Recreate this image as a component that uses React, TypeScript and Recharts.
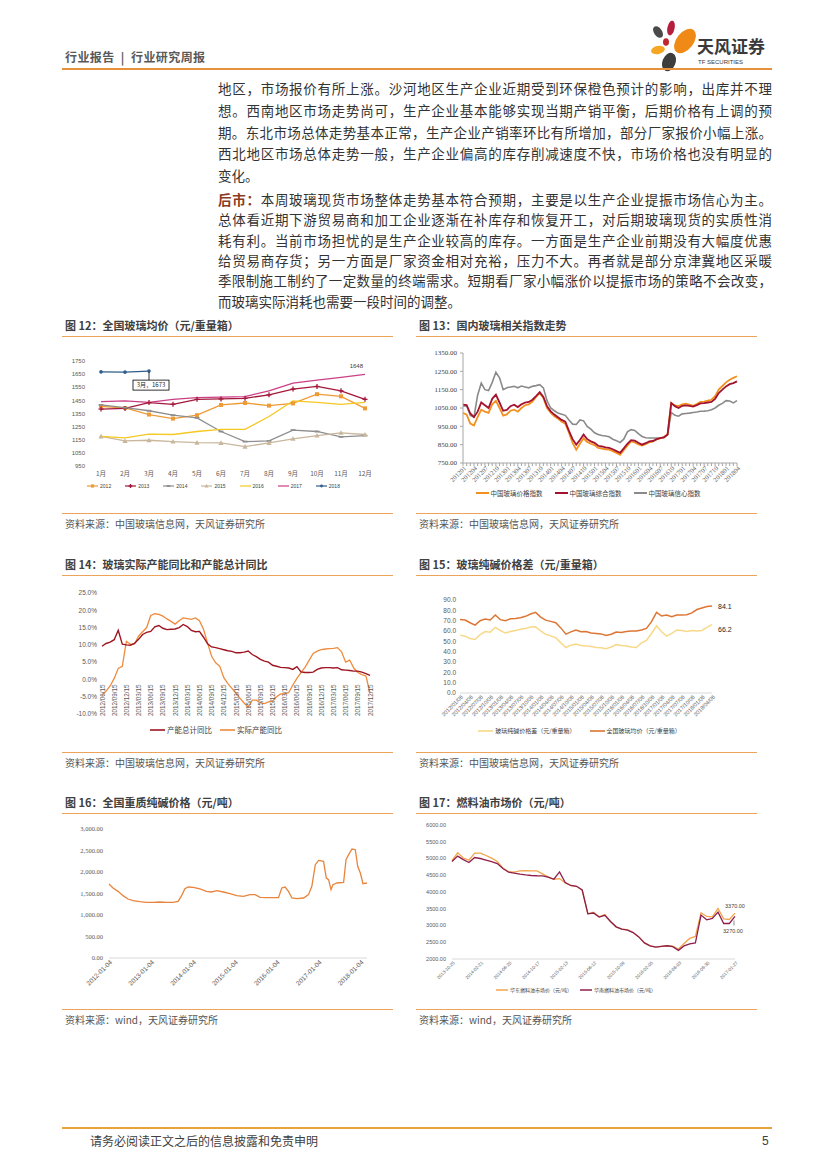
import React from 'react';
import { LineChart, Line, XAxis, YAxis, Legend, LabelList } from 'recharts';

const SANS = '"Liberation Sans", "DejaVu Sans", sans-serif';
const SERIF = '"Liberation Serif", "DejaVu Serif", serif';
const CJK = '"Noto Sans CJK SC", "Noto Sans", sans-serif';
const RULE = '#EDA35A';
const AXIS_TEXT = '#595959';

// ---------- body text ----------
const PARA1 = [
  '地区，市场报价有所上涨。沙河地区生产企业近期受到环保橙色预计的影响，出库并不理',
  '想。西南地区市场走势尚可，生产企业基本能够实现当期产销平衡，后期价格有上调的预',
  '期。东北市场总体走势基本正常，生产企业产销率环比有所增加，部分厂家报价小幅上涨。',
  '西北地区市场总体走势一般，生产企业偏高的库存削减速度不快，市场价格也没有明显的',
  '变化。',
];
const PARA2_LEAD = '后市：';
const PARA2 = [
  '本周玻璃现货市场整体走势基本符合预期，主要是以生产企业提振市场信心为主。',
  '总体看近期下游贸易商和加工企业逐渐在补库存和恢复开工，对后期玻璃现货的实质性消',
  '耗有利。当前市场担忧的是生产企业较高的库存。一方面是生产企业前期没有大幅度优惠',
  '给贸易商存货；另一方面是厂家资金相对充裕，压力不大。再者就是部分京津冀地区采暖',
  '季限制施工制约了一定数量的终端需求。短期看厂家小幅涨价以提振市场的策略不会改变，',
  '而玻璃实际消耗也需要一段时间的调整。',
];

// ---------- 图12 全国玻璃均价 ----------
const MONTHS = ['1月', '2月', '3月', '4月', '5月', '6月', '7月', '8月', '9月', '10月', '11月', '12月'];
const PRICE_2012 = [1405, 1392, 1342, 1311, 1337, 1415, 1430, 1410, 1427, 1497, 1481, 1389];
const PRICE_2013 = [1384, 1389, 1433, 1420, 1458, 1461, 1466, 1492, 1536, 1556, 1523, 1458];
const PRICE_2014 = [1415, 1394, 1371, 1337, 1317, 1213, 1136, 1141, 1224, 1213, 1172, 1182];
const PRICE_2015 = [1175, 1141, 1146, 1136, 1128, 1126, 1097, 1126, 1157, 1182, 1203, 1190];
const PRICE_2016 = [1175, 1164, 1193, 1190, 1213, 1229, 1229, 1327, 1446, 1435, 1420, 1435];
const PRICE_2017 = [1440, 1446, 1435, 1458, 1471, 1474, 1479, 1523, 1582, 1605, 1626, 1648];
const PRICE_2018 = [1667, 1665, 1673];
const YEARS = ['2012', '2013', '2014', '2015', '2016', '2017', '2018'];
const YEAR_PRICES = [PRICE_2012, PRICE_2013, PRICE_2014, PRICE_2015, PRICE_2016, PRICE_2017, PRICE_2018];
const YEAR_COLORS = ['#EE9A36', '#A3173A', '#8E8E8E', '#C9B79C', '#F5C823', '#CB3F86', '#2F5E8C'];
const YEAR_MARKERS = ['square', 'plus', 'dash', 'triangle', 'none', 'none', 'circle'];
const FIG12_TICKS = [950, 1050, 1150, 1250, 1350, 1450, 1550, 1650, 1750];

// ---------- 图13 国内玻璃相关指数 ----------
const FIG13_MONTHS = [
  '201201', '201202', '201203', '201204', '201205', '201206', '201207', '201208', '201209', '201210', '201211', '201212',
  '201301', '201302', '201303', '201304', '201305', '201306', '201307', '201308', '201309', '201310', '201311', '201312',
  '201401', '201402', '201403', '201404', '201405', '201406', '201407', '201408', '201409', '201410', '201411', '201412',
  '201501', '201502', '201503', '201504', '201505', '201506', '201507', '201508', '201509', '201510', '201511', '201512',
  '201601', '201602', '201603', '201604', '201605', '201606', '201607', '201608', '201609', '201610', '201611', '201612',
  '201701', '201702', '201703', '201704', '201705', '201706', '201707', '201708', '201709', '201710', '201711', '201712',
  '201801', '201802', '201803', '201804',
];
const GLASS_PRICE_IDX = [
  1023, 1014, 965, 955, 1000, 1041, 1030, 1023, 1070, 1090, 1050, 1008,
  1015, 1035, 1041, 1030, 1050, 1065, 1070, 1085, 1110, 1132, 1105, 1050,
  1025, 1005, 992, 975, 965, 915, 860, 823, 855, 885, 865, 855,
  848, 832, 828, 825, 823, 815, 805, 795, 820, 845, 868, 862,
  852, 845, 852, 863, 868, 878, 886, 890, 905, 1077, 1064, 1060,
  1070, 1074, 1068, 1062, 1072, 1083, 1085, 1090, 1095, 1115, 1150, 1170,
  1190, 1204, 1214, 1223,
];
const GLASS_COMPOSITE_IDX = [
  1068, 1066, 1020, 1000, 1030, 1080, 1065, 1050, 1100, 1123, 1080, 1035,
  1040, 1060, 1068, 1055, 1070, 1080, 1083, 1095, 1115, 1136, 1110, 1060,
  1032, 1014, 1000, 985, 975, 925, 880, 850, 875, 905, 880, 868,
  860, 844, 840, 835, 832, 825, 815, 805, 830, 855, 875, 872,
  860, 850, 858, 868, 870, 880, 886, 890, 905, 1077, 1060, 1050,
  1062, 1064, 1062, 1058, 1066, 1075, 1077, 1080, 1083, 1100, 1132, 1150,
  1168, 1180, 1186, 1195,
];
const GLASS_CONFIDENCE_IDX = [
  1060, 1062, 1010, 1000, 1120, 1186, 1150, 1145, 1190, 1245, 1215, 1150,
  1160, 1165, 1168, 1160, 1170, 1165, 1160, 1168, 1172, 1177, 1160, 1090,
  1050, 1035, 1022, 1016, 1010, 985, 962, 960, 985, 980, 950, 935,
  915, 905, 900, 897, 893, 880, 872, 862, 880, 920, 932, 928,
  910, 895, 888, 886, 886, 886, 886, 890, 905, 1026, 1010, 1005,
  1018, 1020, 1022, 1025, 1028, 1032, 1033, 1035, 1040, 1050, 1065, 1075,
  1090, 1088, 1078, 1090,
];
const FIG13_TICKS = [750, 850, 950, 1050, 1150, 1250, 1350];

// ---------- 图14 产能同比 ----------
const FIG14_DATES = [
  '2012/06/15', '2012/07/15', '2012/08/15', '2012/09/15', '2012/10/15', '2012/11/15', '2012/12/15',
  '2013/01/15', '2013/02/15', '2013/03/15', '2013/04/15', '2013/05/15', '2013/06/15', '2013/07/15', '2013/08/15', '2013/09/15', '2013/10/15', '2013/11/15', '2013/12/15',
  '2014/01/15', '2014/02/15', '2014/03/15', '2014/04/15', '2014/05/15', '2014/06/15', '2014/07/15', '2014/08/15', '2014/09/15', '2014/10/15', '2014/11/15', '2014/12/15',
  '2015/01/15', '2015/02/15', '2015/03/15', '2015/04/15', '2015/05/15', '2015/06/15', '2015/07/15', '2015/08/15', '2015/09/15', '2015/10/15', '2015/11/15', '2015/12/15',
  '2016/01/15', '2016/02/15', '2016/03/15', '2016/04/15', '2016/05/15', '2016/06/15', '2016/07/15', '2016/08/15', '2016/09/15', '2016/10/15', '2016/11/15', '2016/12/15',
  '2017/01/15', '2017/02/15', '2017/03/15', '2017/04/15', '2017/05/15', '2017/06/15', '2017/07/15', '2017/08/15', '2017/09/15', '2017/10/15', '2017/11/15', '2017/12/15',
];
const TOTAL_CAPACITY_YOY = [
  9.6, 10.4, 10.8, 11.5, 14.2, 10.2, 10.0, 9.9, 10.4, 11.6, 13.0, 13.6, 13.9, 15.2, 15.6, 14.8, 14.4, 14.5, 14.6, 15.0,
  15.9, 15.3, 14.2, 13.8, 13.9, 12.2, 10.3, 9.4, 9.2, 8.9, 8.6, 8.3, 8.1, 7.7, 7.7, 7.9, 8.2, 7.2, 6.6, 5.8,
  5.3, 5.0, 4.1, 3.8, 3.5, 3.4, 3.3, 2.9, 3.7, 2.2, 2.0, 2.0, 2.1, 2.9, 3.3, 3.4, 3.4, 3.3, 3.4, 2.8,
  2.7, 2.6, 2.4, 2.4, 2.1, 1.7, 1.2,
];
const ACTUAL_CAPACITY_YOY = [
  -4.6, -3.4, -1.9, 0.3, 3.2, 3.8, 11.0, 10.2, 10.3, 12.5, 13.8, 15.0, 18.5, 19.0, 18.8, 18.3, 17.5, 16.8, 16.0, 17.0,
  17.8, 17.6, 17.4, 17.8, 17.0, 14.5, 10.5, 6.7, 4.8, 3.8, 0.5, -1.2, -2.6, -4.0, -5.5, -6.8, -8.0, -6.0, -6.0, -6.8,
  -7.0, -6.5, -6.3, -5.0, -4.2, -4.2, -3.8, -1.6, 0.3, 2.0, 3.5, 5.5, 7.5, 8.2, 8.6, 8.8, 8.9, 9.0, 9.2, 8.0,
  5.0, 5.6, 3.3, 2.0, 1.4, 1.0, -4.0,
];
const FIG14_TICKS = [-10, -5, 0, 5, 10, 15, 20, 25];

// ---------- 图15 玻璃纯碱价格差 ----------
const FIG15_TICKS = [
  '2012/01/06', '2012/04/06', '2012/07/06', '2012/10/06', '2013/01/06', '2013/04/06', '2013/07/06', '2013/10/06',
  '2014/01/06', '2014/04/06', '2014/07/06', '2014/10/06', '2015/01/06', '2015/04/06', '2015/07/06', '2015/10/06',
  '2016/01/06', '2016/04/06', '2016/07/06', '2016/10/06', '2017/01/06', '2017/04/06', '2017/07/06', '2017/10/06',
  '2018/01/06', '2018/04/06',
];
const GLASS_AVG_BOX = [
  71.2, 70.6, 68.0, 65.7, 70.0, 71.5, 70.6, 75.5, 71.0, 70.0, 71.8, 72.2, 72.8, 74.2, 76.5, 78.0, 73.5,
  70.5, 69.3, 68.0, 63.0, 57.0, 59.2, 61.0, 59.2, 59.5, 58.0, 57.6, 57.2, 55.6, 56.8, 59.0, 58.6, 59.5,
  60.0, 59.9, 61.0, 62.5, 69.0, 78.0, 74.5, 75.4, 73.8, 75.4, 75.4, 75.8, 77.5, 80.8, 82.2, 83.6, 84.1,
];
const GLASS_SODA_SPREAD = [
  56.0, 55.0, 52.8, 51.8, 56.5, 59.5, 58.9, 63.5, 60.5, 58.0, 59.5, 60.5, 61.6, 62.5, 63.8, 64.0, 60.0,
  56.8, 55.3, 53.5, 48.5, 44.0, 46.3, 47.5, 46.0, 45.6, 45.0, 44.0, 43.8, 42.8, 44.5, 46.8, 46.0, 45.5,
  44.5, 44.0, 48.5, 51.0, 57.6, 65.0, 59.2, 55.0, 57.6, 60.9, 60.4, 59.6, 60.5, 60.0, 60.5, 63.5, 66.2,
];
const FIG15_Y = [0, 10, 20, 30, 40, 50, 60, 70, 80, 90];

// ---------- 图16 全国重质纯碱价格 ----------
const FIG16_DATES = [
  '2012-01-04', '2012-02-08', '2012-03-23', '2012-05-05', '2012-06-18', '2012-08-01', '2012-09-28', '2012-11-25',
  '2013-01-23', '2013-03-22', '2013-05-19', '2013-07-17', '2013-08-29', '2013-09-28', '2013-10-27', '2013-11-25',
  '2014-01-08', '2014-03-07', '2014-05-04', '2014-06-17', '2014-07-31', '2014-09-27', '2014-11-24', '2015-01-22',
  '2015-03-21', '2015-05-18', '2015-07-01', '2015-08-14', '2015-10-11', '2015-12-08', '2016-01-21', '2016-02-19',
  '2016-03-19', '2016-04-17', '2016-05-17', '2016-06-29', '2016-08-27', '2016-10-09', '2016-11-07', '2016-12-07',
  '2017-01-05', '2017-02-17', '2017-03-13', '2017-04-02', '2017-04-23', '2017-05-10', '2017-06-14', '2017-08-11',
  '2017-09-01', '2017-09-24', '2017-10-23', '2017-11-21', '2017-12-12', '2018-01-04', '2018-01-27', '2018-03-03',
];
const SODA_ASH_PRICE = [
  1721, 1628, 1550, 1450, 1372, 1333, 1310, 1295,
  1295, 1302, 1295, 1295, 1318, 1450, 1612, 1651,
  1643, 1605, 1550, 1535, 1566, 1535, 1496, 1450,
  1434, 1473, 1473, 1411, 1403, 1403, 1403, 1628,
  1651, 1550, 1395, 1380, 1395, 1473, 1667, 2171,
  2271, 2248, 1860, 1822, 1589, 1705, 1744, 1760,
  2287, 2403, 2535, 2519, 2132, 1977, 1729, 1744,
];
const FIG16_TICK_LABELS = ['2012-01-04', '2013-01-04', '2014-01-04', '2015-01-04', '2016-01-04', '2017-01-04', '2018-01-04'];
const FIG16_Y = [0, 500, 1000, 1500, 2000, 2500, 3000];

// ---------- 图17 燃料油市场价 ----------
const FIG17_TICKS = [
  '2013-10-25', '2014-02-21', '2014-06-20', '2014-10-17', '2015-02-13', '2015-06-12',
  '2015-10-09', '2016-02-05', '2016-06-03', '2016-09-30', '2017-01-27',
];
const EAST_FUEL_OIL = [
  4938, 5170, 5015, 4950, 5160, 5160, 5090, 5010, 4910, 4710, 4610, 4595, 4628, 4640, 4632, 4630, 4540,
  4445, 4380, 4400, 4270, 4190, 4170, 4060, 3350, 3395, 3260, 3330, 3120, 2960, 2893, 2876, 2790, 2660,
  2480, 2395, 2357, 2375, 2395, 2385, 2298, 2460, 2615, 2675, 3380, 3270, 3260, 3505, 3200, 3180, 3370,
];
const SOUTH_FUEL_OIL = [
  4908, 5070, 4965, 4880, 5030, 5000, 4955, 4910, 4850, 4700, 4591, 4565, 4533, 4510, 4493, 4485, 4481,
  4445, 4380, 4600, 4280, 4195, 4170, 4060, 3350, 3372, 3250, 3305, 3120, 2960, 2893, 2860, 2790, 2660,
  2480, 2395, 2357, 2375, 2395, 2370, 2258, 2390, 2450, 2480, 3310, 3171, 3210, 3400, 3060, 3060, 3270,
];
const FIG17_Y = [2000, 2500, 3000, 3500, 4000, 4500, 5000, 5500, 6000];

// ---------- chart tables ----------
const fig12Data = MONTHS.map((month, i) => {
  const row: Record<string, any> = { month };
  YEARS.forEach((y, j) => {
    if (YEAR_PRICES[j][i] !== undefined) row[y] = YEAR_PRICES[j][i];
  });
  return row;
});
const fig13Data = FIG13_MONTHS.map((m, i) => ({
  m,
  price: GLASS_PRICE_IDX[i],
  composite: GLASS_COMPOSITE_IDX[i],
  confidence: GLASS_CONFIDENCE_IDX[i],
}));
const fig14Data = FIG14_DATES.map((d, i) => ({ d, total: TOTAL_CAPACITY_YOY[i], actual: ACTUAL_CAPACITY_YOY[i] }));
const fig15Data = GLASS_AVG_BOX.map((v, i) => ({ idx: i, avg: v, spread: GLASS_SODA_SPREAD[i] }));
const fig16Data = FIG16_DATES.map((d, i) => ({ t: Date.parse(d), v: SODA_ASH_PRICE[i] }));
const FIG16_TICK_TIMES = FIG16_TICK_LABELS.map((d) => Date.parse(d));
const fig17Data = EAST_FUEL_OIL.map((v, i) => ({ idx: i, east: v, south: SOUTH_FUEL_OIL[i] }));

// ---------- helpers ----------
function Marker({ shape, cx, cy, color, s = 1 }: any) {
  if (cx == null || cy == null) return <g />;
  switch (shape) {
    case 'square':
      return <rect x={cx - 2 * s} y={cy - 2 * s} width={4 * s} height={4 * s} fill={color} />;
    case 'plus':
      return (
        <g stroke={color} strokeWidth={1.3}>
          <line x1={cx - 2.5 * s} y1={cy} x2={cx + 2.5 * s} y2={cy} />
          <line x1={cx} y1={cy - 2.5 * s} x2={cx} y2={cy + 2.5 * s} />
        </g>
      );
    case 'dash':
      return <line x1={cx - 2.4 * s} y1={cy} x2={cx + 2.4 * s} y2={cy} stroke={color} strokeWidth={1.8} />;
    case 'triangle':
      return <polygon points={`${cx},${cy - 2.6 * s} ${cx + 2.6 * s},${cy + 2 * s} ${cx - 2.6 * s},${cy + 2 * s}`} fill={color} />;
    case 'circle':
      return <circle cx={cx} cy={cy} r={1.8 * s} fill={color} />;
    default:
      return <g />;
  }
}

type LegendItem = { name: string; color: string; marker?: string; width?: number };

function LegendRow({ items, fontSize, gap, iconW = 16, font = CJK, shift = 0 }: any) {
  return (
    <div
      style={{
        display: 'flex',
        justifyContent: 'center',
        alignItems: 'center',
        height: 12,
        gap,
        fontSize,
        fontFamily: font,
        color: '#404040',
        marginLeft: shift,
        whiteSpace: 'nowrap',
      }}
    >
      {items.map((it: LegendItem) => (
        <div key={it.name} style={{ display: 'flex', alignItems: 'center', height: 12 }}>
          <svg width={iconW} height={8} style={{ display: 'block' }}>
            <line x1={0} y1={4} x2={iconW} y2={4} stroke={it.color} strokeWidth={it.width ?? 1.5} />
            {it.marker ? <Marker shape={it.marker} cx={iconW / 2} cy={4} color={it.color} s={0.8} /> : null}
          </svg>
          <span style={{ marginLeft: 2, lineHeight: '12px' }}>{it.name}</span>
        </div>
      ))}
    </div>
  );
}

function angledTick(labelOf: (v: any, i: number) => string, fontSize: number, fontFamily: string, angle = -45, dx = 0, dy = 0) {
  return (p: any) => {
    const label = labelOf(p.payload.value, p.index);
    if (!label) return <g />;
    return (
      <text
        transform={`translate(${p.x + dx},${p.y + dy}) rotate(${angle})`}
        textAnchor="end"
        dy="0.35em"
        fontSize={fontSize}
        fontFamily={fontFamily}
        fill={AXIS_TEXT}
      >
        {label}
      </text>
    );
  };
}

function Frame({ x, width, titleY, bottomY, title, source }: any) {
  return (
    <>
      <div
        style={{
          position: 'absolute', left: x + 3, top: titleY - 8, height: 16, lineHeight: '16px',
          fontSize: 11, fontWeight: 700, color: '#404040', whiteSpace: 'nowrap',
        }}
      >
        {title}
      </div>
      <div style={{ position: 'absolute', left: x, top: titleY + 11, width, height: 1, background: RULE }} />
      <div style={{ position: 'absolute', left: x, top: bottomY, width, height: 1, background: RULE }} />
      <div
        style={{
          position: 'absolute', left: x + 3, top: bottomY + 3, height: 15, lineHeight: '15px',
          fontSize: 10, color: '#555', whiteSpace: 'nowrap',
        }}
      >
        {source}
      </div>
    </>
  );
}

function Logo() {
  return (
    <svg width={52} height={52} style={{ position: 'absolute', left: 646, top: 20 }}>
      <ellipse cx={12} cy={12} rx={4} ry={6.5} transform="rotate(-35 12 12)" fill="#4A4A4A" />
      <ellipse cx={25} cy={8} rx={3.6} ry={7.5} transform="rotate(12 25 8)" fill="#B51E3C" />
      <ellipse cx={39} cy={21} rx={8.5} ry={14} transform="rotate(38 39 21)" fill="#F08A16" />
      <ellipse cx={20} cy={22} rx={3} ry={3.8} fill="#C0262E" />
      <ellipse cx={12} cy={30} rx={7} ry={4} transform="rotate(-12 12 30)" fill="#F5A623" />
      <ellipse cx={23} cy={42} rx={6.5} ry={9.5} transform="rotate(22 23 42)" fill="#3D3D3D" />
    </svg>
  );
}

// ---------- charts ----------
function Fig12() {
  const legend: LegendItem[] = YEARS.map((y, j) => ({
    name: y,
    color: YEAR_COLORS[j],
    marker: YEAR_MARKERS[j] === 'none' ? undefined : YEAR_MARKERS[j],
    width: 1.2,
  }));
  const callout = (p: any) => {
    if (p.index !== PRICE_2018.length - 1) return <g />;
    return (
      <g>
        <line x1={p.x} y1={p.y + 1} x2={p.x} y2={p.y + 9} stroke="#000" strokeWidth={0.8} />
        <rect x={p.x - 16} y={p.y + 9} width={36} height={10} fill="#fff" stroke="#000" strokeWidth={0.8} />
        <text x={p.x + 2} y={p.y + 16.3} textAnchor="middle" fontSize={6} fontFamily={CJK} fill="#222">
          {`${MONTHS[p.index]}，${p.value}`}
        </text>
      </g>
    );
  };
  const endLabel = (p: any) => {
    if (p.index !== MONTHS.length - 1) return <g />;
    return (
      <text x={p.x - 2} y={p.y - 6} textAnchor="end" fontSize={6} fontFamily={SANS} fill="#404040">
        {p.value}
      </text>
    );
  };
  return (
    <div style={{ position: 'absolute', left: 62, top: 345 }}>
      <LineChart width={338} height={150} data={fig12Data} margin={{ top: 16, right: 35, bottom: 3, left: 0 }}>
        <XAxis
          dataKey="month"
          scale="point"
          interval={0}
          axisLine={false}
          tickLine={false}
          tickSize={0}
          tickMargin={5}
          height={14}
          tick={{ fontSize: 6.5, fill: AXIS_TEXT, fontFamily: CJK }}
        />
        <YAxis
          domain={[950, 1750]}
          ticks={FIG12_TICKS}
          interval={0}
          axisLine={false}
          tickLine={false}
          tickSize={0}
          tickMargin={16}
          width={39}
          tick={{ fontSize: 6, fill: AXIS_TEXT, fontFamily: SANS }}
        />
        {YEARS.map((y, j) => (
          <Line
            key={y}
            dataKey={y}
            stroke={YEAR_COLORS[j]}
            strokeWidth={1.3}
            isAnimationActive={false}
            dot={
              YEAR_MARKERS[j] === 'none'
                ? false
                : (p: any) => <Marker key={`${y}-${p.index}`} shape={YEAR_MARKERS[j]} cx={p.cx} cy={p.cy} color={YEAR_COLORS[j]} />
            }
            activeDot={false}
          >
            {y === '2018' ? <LabelList dataKey={y} content={callout} /> : null}
            {y === '2017' ? <LabelList dataKey={y} content={endLabel} /> : null}
          </Line>
        ))}
        <Legend verticalAlign="bottom" content={() => <LegendRow items={legend} fontSize={5} gap={14} iconW={11} font={SANS} />} />
      </LineChart>
    </div>
  );
}

function Fig13() {
  const legend: LegendItem[] = [
    { name: '中国玻璃价格指数', color: '#F29120', width: 2 },
    { name: '中国玻璃综合指数', color: '#A3122E', width: 2 },
    { name: '中国玻璃信心指数', color: '#8A8A8A', width: 2 },
  ];
  return (
    <div style={{ position: 'absolute', left: 417, top: 340 }}>
      <LineChart width={355} height={165} data={fig13Data} margin={{ top: 13, right: 35, bottom: 6, left: 0 }}>
        <XAxis
          dataKey="m"
          scale="point"
          interval={0}
          axisLine={{ stroke: '#A6A6A6' }}
          tickLine={{ stroke: '#A6A6A6' }}
          tickSize={3}
          tickMargin={1}
          height={24}
          tick={angledTick((v, i) => (i % 3 === 0 ? v : ''), 6.5, SERIF, -45, 2, 0)}
        />
        <YAxis
          domain={[750, 1350]}
          ticks={FIG13_TICKS}
          interval={0}
          axisLine={{ stroke: '#A6A6A6' }}
          tickLine={{ stroke: '#A6A6A6' }}
          tickSize={3}
          tickMargin={3}
          width={46}
          tickFormatter={(v: number) => v.toFixed(2)}
          tick={{ fontSize: 7, fill: '#404040', fontFamily: SERIF }}
        />
        <Line dataKey="confidence" stroke="#8A8A8A" strokeWidth={1.6} dot={false} activeDot={false} isAnimationActive={false} />
        <Line dataKey="price" stroke="#F29120" strokeWidth={1.8} dot={false} activeDot={false} isAnimationActive={false} />
        <Line dataKey="composite" stroke="#A3122E" strokeWidth={1.8} dot={false} activeDot={false} isAnimationActive={false} />
        <Legend verticalAlign="bottom" content={() => <LegendRow items={legend} fontSize={6.5} gap={12} iconW={13} shift={22} />} />
      </LineChart>
    </div>
  );
}

const FIG14_PLOT_H = 165 - 13 - 9 - 12 - 10;
const FIG14_ZERO_UP = (FIG14_PLOT_H * (0 - FIG14_TICKS[0])) / (FIG14_TICKS[FIG14_TICKS.length - 1] - FIG14_TICKS[0]);

function Fig14() {
  const legend: LegendItem[] = [
    { name: '产能总计同比', color: '#9E1420', width: 1.6 },
    { name: '实际产能同比', color: '#F08A3C', width: 1.6 },
  ];
  const tick = (p: any) => (
    <text
      transform={`translate(${p.x + 2.5},${p.y - FIG14_ZERO_UP + 5}) rotate(-90)`}
      textAnchor="end"
      fontSize={6.3}
      fontFamily={SANS}
      fill={AXIS_TEXT}
    >
      {p.payload.value}
    </text>
  );
  return (
    <div style={{ position: 'absolute', left: 62, top: 580 }}>
      <LineChart width={338} height={165} data={fig14Data} margin={{ top: 13, right: 30, bottom: 9, left: 0 }}>
        <XAxis dataKey="d" scale="point" interval={2} axisLine={false} tickLine={false} tickSize={0} tickMargin={0} height={10} tick={tick} />
        <YAxis
          domain={[-10, 25]}
          ticks={FIG14_TICKS}
          interval={0}
          axisLine={false}
          tickLine={false}
          tickSize={0}
          tickMargin={5}
          width={40}
          tickFormatter={(v: number) => `${v.toFixed(1)}%`}
          tick={{ fontSize: 6.5, fill: AXIS_TEXT, fontFamily: SANS }}
        />
        <Line dataKey="actual" stroke="#F08A3C" strokeWidth={1.3} dot={false} activeDot={false} isAnimationActive={false} />
        <Line dataKey="total" stroke="#9E1420" strokeWidth={1.4} dot={false} activeDot={false} isAnimationActive={false} />
        <Legend verticalAlign="bottom" content={() => <LegendRow items={legend} fontSize={7.5} gap={8} iconW={15} />} />
      </LineChart>
    </div>
  );
}

function Fig15() {
  const legend: LegendItem[] = [
    { name: '玻璃纯碱价格差（元/重量箱）', color: '#F8D98A', width: 1.6 },
    { name: '全国玻璃均价（元/重量箱）', color: '#DD7634', width: 1.6 },
  ];
  const endLabel = (dy: number) => (p: any) => {
    if (p.index !== GLASS_AVG_BOX.length - 1) return <g />;
    return (
      <text x={p.x + 6} y={p.y + dy} fontSize={7} fontFamily={SANS} fill="#222">
        {Number(p.value).toFixed(1)}
      </text>
    );
  };
  return (
    <div style={{ position: 'absolute', left: 417, top: 585 }}>
      <LineChart width={355} height={160} data={fig15Data} margin={{ top: 15, right: 60, bottom: 8, left: 0 }}>
        <XAxis
          dataKey="idx"
          scale="point"
          interval={1}
          axisLine={{ stroke: '#D9D9D9' }}
          tickLine={false}
          tickSize={0}
          tickMargin={3}
          height={32}
          tick={angledTick((v) => FIG15_TICKS[v / 2] ?? '', 5.5, SANS, -45, 2, 0)}
        />
        <YAxis
          domain={[0, 90]}
          ticks={FIG15_Y}
          interval={0}
          axisLine={false}
          tickLine={false}
          tickSize={0}
          tickMargin={4}
          width={43}
          tickFormatter={(v: number) => v.toFixed(1)}
          tick={{ fontSize: 6.5, fill: AXIS_TEXT, fontFamily: SANS }}
        />
        <Line dataKey="spread" stroke="#F8D98A" strokeWidth={1.5} dot={false} activeDot={false} isAnimationActive={false}>
          <LabelList dataKey="spread" content={endLabel(7)} />
        </Line>
        <Line dataKey="avg" stroke="#DD7634" strokeWidth={1.5} dot={false} activeDot={false} isAnimationActive={false}>
          <LabelList dataKey="avg" content={endLabel(3)} />
        </Line>
        <Legend verticalAlign="bottom" content={() => <LegendRow items={legend} fontSize={6} gap={14} iconW={15} shift={30} />} />
      </LineChart>
    </div>
  );
}

function Fig16() {
  return (
    <div style={{ position: 'absolute', left: 62, top: 815 }}>
      <LineChart width={338} height={190} data={fig16Data} margin={{ top: 14, right: 33, bottom: 0, left: 0 }}>
        <XAxis
          dataKey="t"
          type="number"
          domain={['dataMin', 'dataMax']}
          ticks={FIG16_TICK_TIMES}
          interval={0}
          axisLine={{ stroke: '#D9D9D9' }}
          tickLine={false}
          tickSize={0}
          tickMargin={3}
          height={47}
          tick={angledTick((v) => FIG16_TICK_LABELS[FIG16_TICK_TIMES.indexOf(v)] ?? '', 6.5, SANS, -45, 2, 0)}
        />
        <YAxis
          domain={[0, 3000]}
          ticks={FIG16_Y}
          interval={0}
          axisLine={false}
          tickLine={false}
          tickSize={0}
          tickMargin={6}
          width={47}
          tickFormatter={(v: number) => v.toLocaleString('en-US', { minimumFractionDigits: 2, maximumFractionDigits: 2 })}
          tick={{ fontSize: 6.5, fill: AXIS_TEXT, fontFamily: SERIF }}
        />
        <Line dataKey="v" stroke="#E8843C" strokeWidth={1.3} dot={false} activeDot={false} isAnimationActive={false} />
      </LineChart>
    </div>
  );
}

function Fig17() {
  const legend: LegendItem[] = [
    { name: '华东燃料油市场价（元/吨）', color: '#F2A54A', width: 1.5 },
    { name: '华南燃料油市场价（元/吨）', color: '#8E1F4D', width: 1.5 },
  ];
  const eastLabel = (p: any) => {
    if (p.index !== EAST_FUEL_OIL.length - 1) return <g />;
    return (
      <text x={p.x} y={p.y - 5} textAnchor="middle" fontSize={5.5} fontFamily={SANS} fill="#404040">
        {Number(p.value).toFixed(2)}
      </text>
    );
  };
  const southLabel = (p: any) => {
    if (p.index !== SOUTH_FUEL_OIL.length - 1) return <g />;
    return (
      <g>
        <line x1={p.x - 1} y1={p.y + 4} x2={p.x - 1} y2={p.y + 9} stroke="#404040" strokeWidth={0.6} />
        <text x={p.x - 2} y={p.y + 17} textAnchor="middle" fontSize={5.5} fontFamily={SANS} fill="#404040">
          {Number(p.value).toFixed(2)}
        </text>
      </g>
    );
  };
  return (
    <div style={{ position: 'absolute', left: 417, top: 812 }}>
      <LineChart width={355} height={193} data={fig17Data} margin={{ top: 13, right: 37, bottom: 9, left: 0 }}>
        <XAxis
          dataKey="idx"
          scale="point"
          interval={4}
          axisLine={{ stroke: '#D9D9D9' }}
          tickLine={false}
          tickSize={0}
          tickMargin={3}
          height={25}
          tick={angledTick((v) => FIG17_TICKS[v / 5] ?? '', 4.5, SANS, -45, 2, 0)}
        />
        <YAxis
          domain={[2000, 6000]}
          ticks={FIG17_Y}
          interval={0}
          axisLine={false}
          tickLine={false}
          tickSize={0}
          tickMargin={6}
          width={35}
          tickFormatter={(v: number) => v.toFixed(2)}
          tick={{ fontSize: 5.5, fill: AXIS_TEXT, fontFamily: SANS }}
        />
        <Line dataKey="east" stroke="#F2A54A" strokeWidth={1.3} dot={false} activeDot={false} isAnimationActive={false}>
          <LabelList dataKey="east" content={eastLabel} />
        </Line>
        <Line dataKey="south" stroke="#8E1F4D" strokeWidth={1.3} dot={false} activeDot={false} isAnimationActive={false}>
          <LabelList dataKey="south" content={southLabel} />
        </Line>
        <Legend verticalAlign="bottom" content={() => <LegendRow items={legend} fontSize={5} gap={8} iconW={12} />} />
      </LineChart>
    </div>
  );
}

// ---------- page ----------
function TextLine({ top, children, last }: any) {
  return (
    <div
      style={{
        position: 'absolute', left: 218, top, width: 554, height: 20, lineHeight: '20px', fontSize: 13.5,
        color: '#333', textAlign: 'justify', textAlignLast: last ? 'left' : 'justify', overflow: 'hidden',
      }}
    >
      {children}
    </div>
  );
}

export default function App() {
  return (
    <div
      style={{
        position: 'absolute', left: 0, top: 0, width: 827, height: 1169, overflow: 'hidden',
        background: '#fff', fontFamily: CJK,
      }}
    >
      <div style={{ position: 'absolute', left: 65, top: 49, fontSize: 12, fontWeight: 700, color: '#595959', lineHeight: '16px', whiteSpace: 'pre', letterSpacing: 0.4 }}>
        {'行业报告  |  行业研究周报'}
      </div>
      <Logo />
      <div style={{ position: 'absolute', left: 697, top: 35, fontSize: 17, fontWeight: 700, color: '#3A3A3A', lineHeight: '22px', whiteSpace: 'nowrap' }}>
        天风证券
      </div>
      <div style={{ position: 'absolute', left: 698, top: 58, fontSize: 6, color: '#3A3A3A', lineHeight: '8px', fontFamily: SANS, whiteSpace: 'nowrap' }}>
        TF SECURITIES
      </div>
      <div style={{ position: 'absolute', left: 62, top: 68, width: 710, height: 2, background: '#E8913A' }} />

      {PARA1.map((l, i) => (
        <TextLine key={`p1-${i}`} top={78 + i * 21.8} last={i === PARA1.length - 1}>{l}</TextLine>
      ))}
      {PARA2.map((l, i) => (
        <TextLine key={`p2-${i}`} top={189 + i * 20.3} last={i === PARA2.length - 1}>
          {i === 0 ? <span style={{ fontWeight: 700, color: '#8C3A1E' }}>{PARA2_LEAD}</span> : null}
          {l}
        </TextLine>
      ))}

      <Frame x={62} width={331} titleY={324.5} bottomY={513} title="图 12：全国玻璃均价（元/重量箱）" source="资料来源：中国玻璃信息网，天风证券研究所" />
      <Frame x={416} width={341} titleY={324.5} bottomY={513} title="图 13：国内玻璃相关指数走势" source="资料来源：中国玻璃信息网，天风证券研究所" />
      <Frame x={62} width={331} titleY={563.5} bottomY={752} title="图 14：玻璃实际产能同比和产能总计同比" source="资料来源：中国玻璃信息网，天风证券研究所" />
      <Frame x={416} width={341} titleY={563.5} bottomY={752} title="图 15：玻璃纯碱价格差（元/重量箱）" source="资料来源：中国玻璃信息网，天风证券研究所" />
      <Frame x={62} width={331} titleY={802} bottomY={1008.5} title="图 16：全国重质纯碱价格（元/吨）" source="资料来源：wind，天风证券研究所" />
      <Frame x={416} width={341} titleY={802} bottomY={1008.5} title="图 17：燃料油市场价（元/吨）" source="资料来源：wind，天风证券研究所" />

      <Fig12 />
      <Fig13 />
      <Fig14 />
      <Fig15 />
      <Fig16 />
      <Fig17 />

      <div style={{ position: 'absolute', left: 62, top: 1127, width: 710, height: 2, background: '#E8A33A' }} />
      <div style={{ position: 'absolute', left: 90, top: 1133, fontSize: 12, color: '#404040', lineHeight: '16px', whiteSpace: 'nowrap' }}>
        请务必阅读正文之后的信息披露和免责申明
      </div>
      <div style={{ position: 'absolute', left: 762, top: 1133, fontSize: 12, color: '#404040', lineHeight: '16px', fontFamily: SANS }}>5</div>
    </div>
  );
}
